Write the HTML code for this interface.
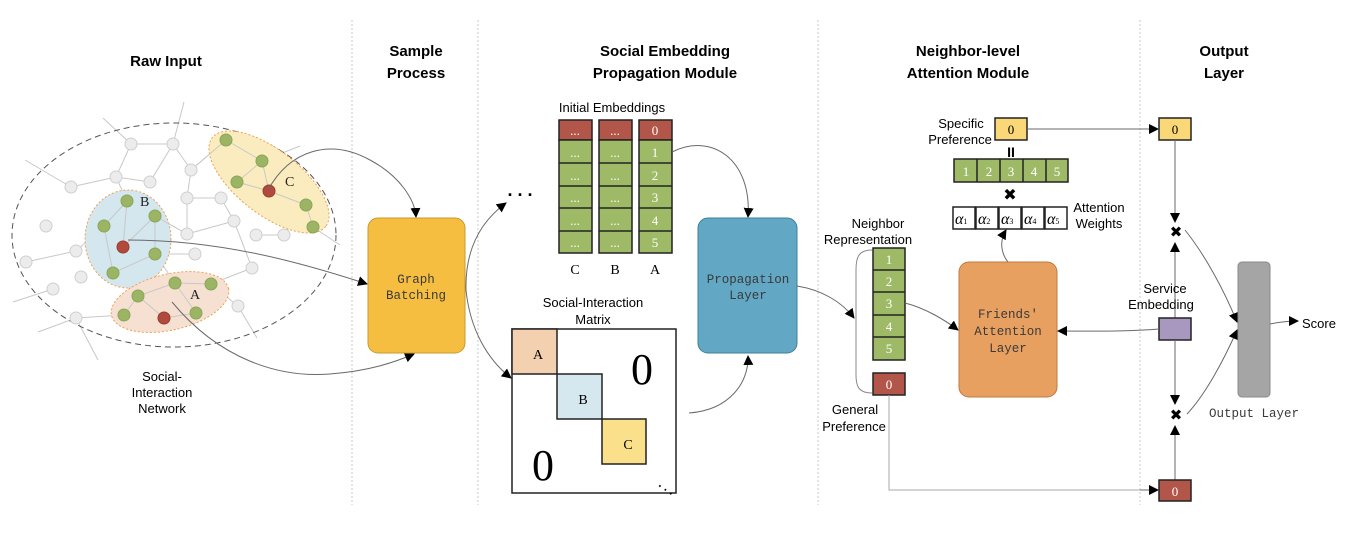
<!DOCTYPE html>
<html><head><meta charset="utf-8"><style>
html,body{margin:0;padding:0;background:#fff}
svg{display:block}
.h{font-family:"Liberation Sans Narrow","Liberation Sans",sans-serif;font-weight:bold;font-size:15px;text-anchor:middle;fill:#000}
.s{font-family:"Liberation Sans",sans-serif;font-size:13px;fill:#000;text-anchor:middle}
.m{font-family:"Liberation Serif",serif;font-size:13px;fill:#fff;text-anchor:middle}
.b{font-family:"Liberation Mono",monospace;font-size:12.5px;fill:#3a3a3a;text-anchor:middle}
.ge{stroke:#c8c8c8;stroke-width:1}
.gn{fill:#ececec;stroke:#cfcfcf;stroke-width:1}
.vn{fill:#9bb564;stroke:#8aa657;stroke-width:1}
.rn{fill:#b14a3c;stroke:#9a3c30}
.ar{fill:none;stroke:#6a6a6a;stroke-width:1;marker-end:url(#ah)}
</style></head><body>
<svg width="1348" height="538" viewBox="0 0 1348 538" xmlns="http://www.w3.org/2000/svg">
<defs><marker id="ah" markerWidth="10" markerHeight="10" refX="9" refY="5" orient="auto" markerUnits="userSpaceOnUse"><path d="M0,0 L10,5 L0,10 z" fill="#000"/></marker></defs>
<g stroke="#c8c8c8" stroke-dasharray="2,2" stroke-width="1">
<line x1="352" y1="20" x2="352" y2="505"/><line x1="478" y1="20" x2="478" y2="505"/><line x1="818" y1="20" x2="818" y2="505"/><line x1="1140" y1="20" x2="1140" y2="505"/></g>
<text class="h" x="166" y="66">Raw Input</text>
<text class="h" x="416" y="56">Sample</text><text class="h" x="416" y="78">Process</text>
<text class="h" x="665" y="56">Social Embedding</text><text class="h" x="665" y="78">Propagation Module</text>
<text class="h" x="968" y="56">Neighbor-level</text><text class="h" x="968" y="78">Attention Module</text>
<text class="h" x="1224" y="56">Output</text><text class="h" x="1224" y="78">Layer</text>
<!-- graph -->
<g class="ge">
<line x1="131" y1="144" x2="173" y2="144"/><line x1="131" y1="144" x2="116" y2="177"/><line x1="131" y1="144" x2="103" y2="118"/><line x1="173" y1="144" x2="150" y2="182"/><line x1="173" y1="144" x2="184" y2="102"/><line x1="173" y1="144" x2="191" y2="170"/><line x1="116" y1="177" x2="71" y2="187"/><line x1="116" y1="177" x2="150" y2="182"/><line x1="116" y1="177" x2="127" y2="201"/><line x1="71" y1="187" x2="25" y2="160"/><line x1="191" y1="170" x2="226" y2="140"/><line x1="191" y1="170" x2="187" y2="198"/><line x1="187" y1="198" x2="221" y2="198"/><line x1="187" y1="198" x2="187" y2="234"/><line x1="221" y1="198" x2="234" y2="221"/><line x1="234" y1="221" x2="187" y2="234"/><line x1="234" y1="221" x2="252" y2="268"/><line x1="187" y1="234" x2="155" y2="216"/><line x1="256" y1="235" x2="284" y2="235"/><line x1="284" y1="235" x2="306" y2="205"/><line x1="313" y1="227" x2="340" y2="245"/><line x1="262" y1="161" x2="300" y2="146"/><line x1="76" y1="251" x2="26" y2="262"/><line x1="76" y1="251" x2="104" y2="226"/><line x1="195" y1="254" x2="155" y2="254"/><line x1="155" y1="254" x2="175" y2="283"/><line x1="252" y1="268" x2="211" y2="284"/><line x1="211" y1="284" x2="175" y2="283"/><line x1="175" y1="283" x2="138" y2="296"/><line x1="138" y1="296" x2="124" y2="315"/><line x1="138" y1="296" x2="164" y2="318"/><line x1="164" y1="318" x2="196" y2="313"/><line x1="196" y1="313" x2="175" y2="283"/><line x1="211" y1="284" x2="238" y2="306"/><line x1="238" y1="306" x2="257" y2="338"/><line x1="124" y1="315" x2="76" y2="318"/><line x1="76" y1="318" x2="38" y2="332"/><line x1="76" y1="318" x2="98" y2="360"/><line x1="53" y1="289" x2="13" y2="302"/>
</g>
<ellipse cx="174" cy="235" rx="162" ry="112" fill="none" stroke="#555" stroke-dasharray="6,4"/>
<ellipse cx="269" cy="182" rx="72" ry="32" transform="rotate(38 269 182)" fill="#fbecbf" stroke="#f0a050" stroke-dasharray="2,2"/>
<ellipse cx="128" cy="239" rx="43" ry="49" fill="#d4e6ee" stroke="#f0a050" stroke-dasharray="2,2"/>
<ellipse cx="170" cy="302" rx="60" ry="28" transform="rotate(-13 170 302)" fill="#f6e0d2" stroke="#f0a050" stroke-dasharray="2,2"/>
<g class="ge">
<line x1="226" y1="140" x2="262" y2="161"/><line x1="262" y1="161" x2="237" y2="182"/><line x1="262" y1="161" x2="269" y2="191"/><line x1="237" y1="182" x2="269" y2="191"/><line x1="269" y1="191" x2="306" y2="205"/><line x1="306" y1="205" x2="313" y2="227"/><line x1="226" y1="140" x2="191" y2="170"/>
<line x1="127" y1="201" x2="104" y2="226"/><line x1="127" y1="201" x2="123" y2="247"/><line x1="155" y1="216" x2="155" y2="254"/><line x1="155" y1="216" x2="123" y2="247"/><line x1="104" y1="226" x2="113" y2="273"/><line x1="113" y1="273" x2="155" y2="254"/><line x1="155" y1="216" x2="187" y2="234"/>
<line x1="175" y1="283" x2="138" y2="296"/><line x1="138" y1="296" x2="124" y2="315"/><line x1="138" y1="296" x2="164" y2="318"/><line x1="164" y1="318" x2="196" y2="313"/><line x1="196" y1="313" x2="175" y2="283"/><line x1="175" y1="283" x2="211" y2="284"/>
</g>
<g class="gn">
<circle cx="131" cy="144" r="6"/><circle cx="173" cy="144" r="6"/><circle cx="116" cy="177" r="6"/><circle cx="150" cy="182" r="6"/><circle cx="71" cy="187" r="6"/><circle cx="191" cy="170" r="6"/><circle cx="187" cy="198" r="6"/><circle cx="221" cy="198" r="6"/><circle cx="234" cy="221" r="6"/><circle cx="187" cy="234" r="6"/><circle cx="256" cy="235" r="6"/><circle cx="284" cy="235" r="6"/><circle cx="46" cy="226" r="6"/><circle cx="76" cy="251" r="6"/><circle cx="26" cy="262" r="6"/><circle cx="195" cy="254" r="6"/><circle cx="252" cy="268" r="6"/><circle cx="81" cy="277" r="6"/><circle cx="53" cy="289" r="6"/><circle cx="238" cy="306" r="6"/><circle cx="76" cy="318" r="6"/>
</g>
<g class="vn">
<circle cx="226" cy="140" r="6"/><circle cx="262" cy="161" r="6"/><circle cx="237" cy="182" r="6"/><circle cx="306" cy="205" r="6"/><circle cx="313" cy="227" r="6"/>
<circle cx="127" cy="201" r="6"/><circle cx="155" cy="216" r="6"/><circle cx="104" cy="226" r="6"/><circle cx="155" cy="254" r="6"/><circle cx="113" cy="273" r="6"/>
<circle cx="175" cy="283" r="6"/><circle cx="211" cy="284" r="6"/><circle cx="138" cy="296" r="6"/><circle cx="124" cy="315" r="6"/><circle cx="196" cy="313" r="6"/>
</g>
<g class="rn"><circle cx="269" cy="191" r="6"/><circle cx="123" cy="247" r="6"/><circle cx="164" cy="318" r="6"/></g>
<g font-family="Liberation Serif,serif" font-size="14" fill="#222"><text x="285" y="186">C</text><text x="140" y="206">B</text><text x="190" y="299">A</text></g>
<text class="s" x="162" y="381">Social-</text><text class="s" x="162" y="397">Interaction</text><text class="s" x="162" y="413">Network</text>
<path class="ar" d="M268,190 C290,150 330,138 370,160 C400,176 415,200 416,217"/>
<path class="ar" d="M128,240 C220,240 300,262 367,284"/>
<path class="ar" d="M172,302 C220,360 280,378 330,374 C370,371 395,362 414,354"/>
<rect x="368" y="218" width="97" height="135" rx="10" fill="#f5be41" stroke="#c79a30"/>
<text class="b" x="416" y="283">Graph</text><text class="b" x="416" y="299">Batching</text>
<path class="ar" d="M466,290 C465,250 480,222 506,203"/>
<path class="ar" d="M466,290 C470,330 488,360 511,378"/>
<text x="520" y="196" font-family="Liberation Sans,sans-serif" font-size="18" font-weight="bold" text-anchor="middle">. . .</text>
<text class="s" x="612" y="112">Initial Embeddings</text>
<g stroke="#222" stroke-width="1.5">
<rect x="559" y="120" width="33" height="20" fill="#b3564a"/><rect x="599" y="120" width="33" height="20" fill="#b3564a"/><rect x="639" y="120" width="33" height="20" fill="#b3564a"/>
<g fill="#9fba66">
<rect x="559" y="140" width="33" height="113"/><rect x="599" y="140" width="33" height="113"/><rect x="639" y="140" width="33" height="113"/></g>
<path d="M559,163H592M559,186H592M559,208H592M559,231H592M599,163H632M599,186H632M599,208H632M599,231H632M639,163H672M639,186H672M639,208H672M639,231H672"/>
</g>
<g class="m" font-size="10"><text x="575" y="135">...</text><text x="615" y="135">...</text>
<text x="575" y="157">...</text><text x="615" y="157">...</text><text x="575" y="180">...</text><text x="615" y="180">...</text><text x="575" y="202">...</text><text x="615" y="202">...</text><text x="575" y="225">...</text><text x="615" y="225">...</text><text x="575" y="247">...</text><text x="615" y="247">...</text></g>
<g class="m"><text x="655" y="135">0</text><text x="655" y="157">1</text><text x="655" y="180">2</text><text x="655" y="202">3</text><text x="655" y="225">4</text><text x="655" y="247">5</text></g>
<g font-family="Liberation Serif,serif" font-size="14" text-anchor="middle"><text x="575" y="274">C</text><text x="615" y="274">B</text><text x="655" y="274">A</text></g>
<text class="s" x="593" y="307">Social-Interaction</text><text class="s" x="593" y="324">Matrix</text>
<rect x="512" y="329" width="164" height="164" fill="#fff" stroke="#222" stroke-width="1.5"/>
<rect x="512" y="329" width="45" height="45" fill="#f3d0b0" stroke="#222" stroke-width="1.5"/>
<rect x="557" y="374" width="45" height="45" fill="#d6e8ef" stroke="#222" stroke-width="1.5"/>
<rect x="602" y="419" width="44" height="45" fill="#fae08a" stroke="#222" stroke-width="1.5"/>
<g font-family="Liberation Serif,serif" font-size="14" text-anchor="middle"><text x="538" y="359">A</text><text x="583" y="404">B</text><text x="628" y="449">C</text></g>
<g font-family="Liberation Serif,serif" font-size="44" text-anchor="middle"><text x="642" y="384">0</text><text x="543" y="480">0</text></g>
<text x="662" y="487" font-size="12" font-weight="bold" font-family="Liberation Sans,sans-serif" transform="rotate(35 662 480)">. . .</text>
<path class="ar" d="M672,152 C712,132 752,160 748,217"/>
<path class="ar" d="M689,413 C730,410 749,382 748,356"/>
<rect x="698" y="218" width="99" height="135" rx="10" fill="#62a8c4" stroke="#3f7f99"/>
<text class="b" x="748" y="283">Propagation</text><text class="b" x="748" y="299">Layer</text>
<path class="ar" d="M797,286 C822,290 842,302 854,318"/>
<text class="s" x="878" y="228">Neighbor</text><text class="s" x="868" y="244">Representation</text>
<path d="M872,250 C858,250 856,258 856,270 L856,375 C856,388 860,393 872,393" fill="none" stroke="#888"/>
<g stroke="#222" stroke-width="1.5"><rect x="873" y="248" width="32" height="112" fill="#9fba66"/>
<path d="M873,270H905M873,292H905M873,315H905M873,337H905"/>
<rect x="873" y="373" width="32" height="22" fill="#b3564a"/></g>
<g class="m"><text x="889" y="264">1</text><text x="889" y="286">2</text><text x="889" y="308">3</text><text x="889" y="331">4</text><text x="889" y="353">5</text><text x="889" y="389">0</text></g>
<text class="s" x="855" y="414">General</text><text class="s" x="854" y="431">Preference</text>
<path class="ar" d="M905,303 C925,308 945,320 958,330"/>
<rect x="959" y="262" width="98" height="135" rx="10" fill="#e8a060" stroke="#c07a40"/>
<text class="b" x="1008" y="318">Friends'</text><text class="b" x="1008" y="335">Attention</text><text class="b" x="1008" y="352">Layer</text>
<path class="ar" d="M1008,262 C1000,252 1000,240 1006,230"/>
<text class="s" x="961" y="128">Specific</text><text class="s" x="960" y="144">Preference</text>
<rect x="995" y="118" width="32" height="22" fill="#fad878" stroke="#222" stroke-width="1.5"/>
<text x="1011" y="134" font-family="Liberation Serif,serif" font-size="13" text-anchor="middle">0</text>
<text x="1011" y="157" font-family="Liberation Sans,sans-serif" font-size="14" font-weight="bold" text-anchor="middle">II</text>
<g stroke="#222" stroke-width="1.5"><rect x="954" y="159" width="114" height="23" fill="#9fba66"/><path d="M977,159V182M1000,159V182M1023,159V182M1046,159V182"/></g>
<g class="m"><text x="966" y="176">1</text><text x="989" y="176">2</text><text x="1011" y="176">3</text><text x="1034" y="176">4</text><text x="1057" y="176">5</text></g>
<text x="1010" y="200" font-family="DejaVu Sans,sans-serif" font-size="16" font-weight="bold" text-anchor="middle">✖</text>
<g stroke="#222" stroke-width="1.5" fill="#fff"><rect x="953" y="207" width="22" height="22"/><rect x="976" y="207" width="22" height="22"/><rect x="999" y="207" width="22" height="22"/><rect x="1022" y="207" width="22" height="22"/><rect x="1045" y="207" width="22" height="22"/></g>
<g font-family="Liberation Serif,serif" font-style="italic" font-size="16"><text x="955" y="224">α<tspan font-size="8" font-style="normal">1</tspan></text><text x="978" y="224">α<tspan font-size="8" font-style="normal">2</tspan></text><text x="1001" y="224">α<tspan font-size="8" font-style="normal">3</tspan></text><text x="1024" y="224">α<tspan font-size="8" font-style="normal">4</tspan></text><text x="1047" y="224">α<tspan font-size="8" font-style="normal">5</tspan></text></g>
<text class="s" x="1099" y="212">Attention</text><text class="s" x="1099" y="228">Weights</text>
<path class="ar" d="M1027,129 H1158"/>
<rect x="1159" y="118" width="32" height="22" fill="#fad878" stroke="#222" stroke-width="1.5"/>
<text x="1175" y="134" font-family="Liberation Serif,serif" font-size="13" text-anchor="middle">0</text>
<path class="ar" d="M1175,140 V222"/>
<text x="1176" y="237" font-family="DejaVu Sans,sans-serif" font-size="15" font-weight="bold" text-anchor="middle">✖</text>
<path class="ar" d="M1175,318 V243"/>
<text class="s" x="1165" y="293">Service</text><text class="s" x="1161" y="309">Embedding</text>
<rect x="1159" y="318" width="32" height="22" fill="#a898c0" stroke="#222" stroke-width="1.5"/>
<path class="ar" d="M1159,329 C1120,332 1090,331 1058,331"/>
<path class="ar" d="M1175,340 V404"/>
<text x="1176" y="420" font-family="DejaVu Sans,sans-serif" font-size="15" font-weight="bold" text-anchor="middle">✖</text>
<path class="ar" d="M1175,480 V426"/>
<path d="M889,395 V490 H1150" fill="none" stroke="#aaa" stroke-width="1"/>
<path class="ar" d="M1140,490 H1158"/>
<rect x="1159" y="480" width="32" height="21" fill="#b3564a" stroke="#222" stroke-width="1.5"/>
<text class="m" x="1175" y="496">0</text>
<path class="ar" d="M1185,230 C1205,255 1224,290 1237,322"/>
<path class="ar" d="M1187,414 C1205,395 1224,360 1237,330"/>
<rect x="1238" y="262" width="32" height="135" rx="4" fill="#a5a5a5" stroke="#8a8a8a"/>
<text class="b" x="1254" y="417" fill="#666">Output Layer</text>
<path class="ar" d="M1270,324 C1280,322 1288,321 1298,321"/>
<text x="1302" y="328" font-family="Liberation Sans,sans-serif" font-size="13">Score</text>
</svg>
</body></html>
